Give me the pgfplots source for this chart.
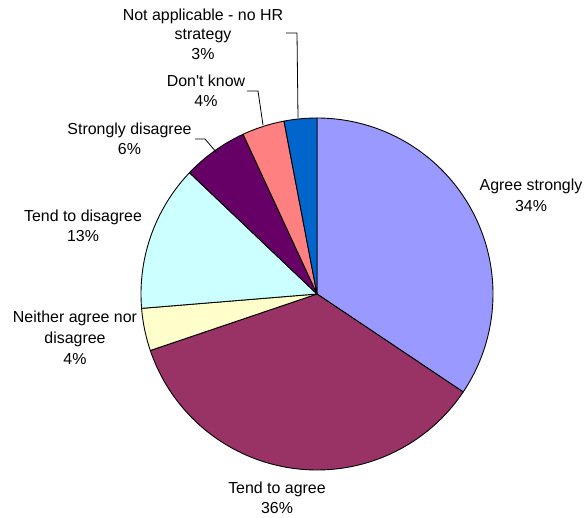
\documentclass[border=0pt]{standalone}
\usepackage{pgfplots}
\pgfplotsset{compat=1.18}
\usepackage{fontspec}
\setmainfont{Liberation Sans}
\newfontfamily\lsans{Liberation Sans}
\definecolor{slA}{HTML}{9999FF}
\definecolor{slB}{HTML}{993366}
\definecolor{slC}{HTML}{FFFFCC}
\definecolor{slD}{HTML}{CCFFFF}
\definecolor{slE}{HTML}{660066}
\definecolor{slF}{HTML}{FF8080}
\definecolor{slG}{HTML}{0066CC}
\begin{document}
\begin{tikzpicture}
\useasboundingbox (0,0) rectangle (584bp,518bp);
\begin{axis}[
  at={(0,0)}, anchor=origin,
  width=584bp, height=518bp, scale only axis,
  xmin=0, xmax=584, ymin=0, ymax=518,
  hide axis, clip=false,
]
% values (percent), clockwise from 12 o'clock
\gdef\cum{0}
\foreach \v/\c in {34.4/slA, 35.4/slB, 3.9/slC, 13.4/slD, 6.0/slE, 3.9/slF, 3.0/slG} {
  \pgfmathsetmacro\nxt{\cum+\v}
  \edef\temp{\noexpand\addplot[fill=\c, draw=black, line width=0.9pt, line join=round,
    domain=\cum:\nxt, samples=90, variable=\noexpand\t]
    ({317+176*cos(90-3.6*\noexpand\t)},{224+176*sin(90-3.6*\noexpand\t)}) -- (axis cs:317,224) -- cycle;}
  \temp
  \xdef\cum{\nxt}
}
\tikzset{lbl/.style={anchor=base, inner sep=0pt, font=\lsans\fontsize{16}{20}\selectfont}}
% labels
\node[lbl] at (axis cs:203,497) {Not applicable - no HR};
\node[lbl] at (axis cs:203,478) {strategy};
\node[lbl] at (axis cs:203,458) {3\%};
\node[lbl] at (axis cs:206,431) {Don't know};
\node[lbl] at (axis cs:206,411) {4\%};
\node[lbl] at (axis cs:129.5,383) {Strongly disagree};
\node[lbl] at (axis cs:129.5,363) {6\%};
\node[lbl] at (axis cs:83,296) {Tend to disagree};
\node[lbl] at (axis cs:83,276) {13\%};
\node[lbl] at (axis cs:75,195) {Neither agree nor};
\node[lbl] at (axis cs:75,174.5) {disagree};
\node[lbl] at (axis cs:75,153.5) {4\%};
\node[lbl] at (axis cs:531,327) {Agree strongly};
\node[lbl] at (axis cs:531,306) {34\%};
\node[lbl] at (axis cs:277,25) {Tend to agree};
\node[lbl] at (axis cs:277,5) {36\%};
% leader lines
\draw[line width=0.8pt] (axis cs:286,485) -- (axis cs:297,485) -- (axis cs:298,400);
\draw[line width=0.8pt] (axis cs:247,427) -- (axis cs:258,427) -- (axis cs:263,393);
\draw[line width=0.8pt] (axis cs:195,379) -- (axis cs:205,379) -- (axis cs:217,365);
\end{axis}
\end{tikzpicture}
\end{document}
